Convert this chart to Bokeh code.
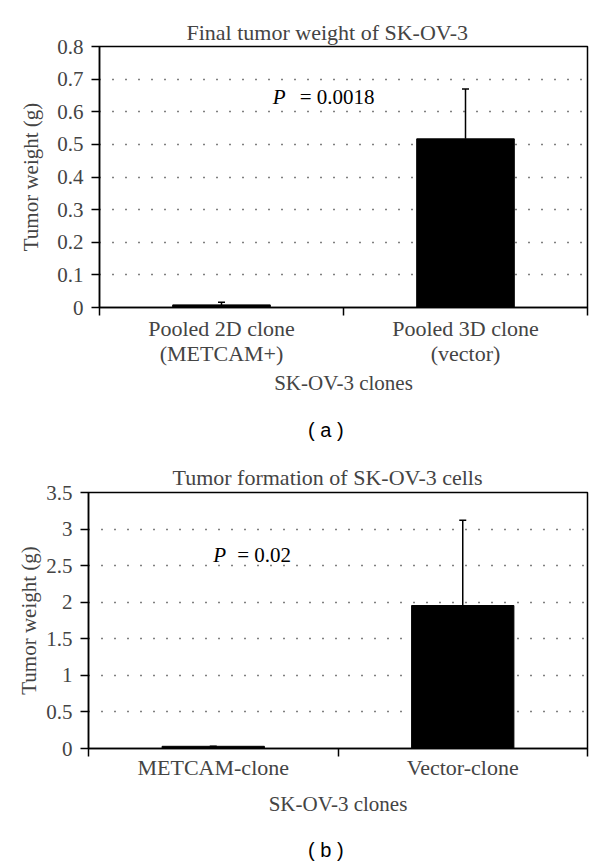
from bokeh.plotting import figure
from bokeh.models import Range1d, FixedTicker, Whisker, TeeHead, ColumnDataSource, Div
from bokeh.layouts import column
from bokeh.core.properties import value
from bokeh.embed import file_html
from bokeh.resources import INLINE

SERIF = "Liberation Serif"
SANS = "Liberation Sans"

# ---------------- data: panel (a)
a_title = "Final tumor weight of SK-OV-3"
a_categories = ["Pooled 2D clone\n(METCAM+)", "Pooled 3D clone\n(vector)"]
a_means = [0.008, 0.517]
a_sd = [0.008, 0.153]
a_yticks = [0, 0.1, 0.2, 0.3, 0.4, 0.5, 0.6, 0.7, 0.8]
a_ytick_labels = ["0", "0.1", "0.2", "0.3", "0.4", "0.5", "0.6", "0.7", "0.8"]
a_p_value = "= 0.0018"
a_p_pos = (0.71, 0.646)
a_letter = "( a )"

# ---------------- data: panel (b)
b_title = "Tumor formation of SK-OV-3 cells"
b_categories = ["METCAM-clone", "Vector-clone"]
b_means = [0.03, 1.955]
b_sd = [0.0, 1.165]
b_yticks = [0, 0.5, 1, 1.5, 2, 2.5, 3, 3.5]
b_ytick_labels = ["0", "0.5", "1", "1.5", "2", "2.5", "3", "3.5"]
b_p_value = "= 0.02"
b_p_pos = (0.50, 2.645)
b_letter = "( b )"

x_label = "SK-OV-3 clones"
y_label = "Tumor weight (g)"

FS = "21px"
FS_TITLE = "22px"


def make_panel(title, cats, means, sd, yticks, ylabels, p_value, p_pos,
               height, b_left, b_top, b_bottom, b_right, bar_width, ylab_standoff,
               eq_offset, title_offset, title_standoff, xtick_standoff,
               xlab_standoff):
    n = len(cats)
    xs = [i + 0.5 for i in range(n)]
    p = figure(width=600, height=height, output_backend="svg", toolbar_location=None,
               x_range=Range1d(0, n), y_range=Range1d(yticks[0], yticks[-1]),
               min_border_left=b_left, min_border_right=b_right,
               min_border_top=b_top, min_border_bottom=b_bottom)
    p.frame_align = False
    p.background_fill_color = "white"
    p.border_fill_color = "white"
    p.outline_line_color = "black"
    p.outline_line_width = 1.5

    # title
    p.title.text = title
    p.title.align = "left"
    p.title.offset = title_offset
    p.title.text_font = SERIF
    p.title.text_font_style = "normal"
    p.title.text_font_size = FS_TITLE
    p.title.standoff = title_standoff

    # bars
    p.vbar(x=xs, top=means, bottom=0, width=bar_width, fill_color="black",
           line_color="black")
    src = ColumnDataSource(dict(x=xs, lower=means,
                                upper=[m + s for m, s in zip(means, sd)]))
    w = Whisker(base="x", lower="lower", upper="upper", source=src,
                dimension="height", line_color="black", line_width=1.5,
                lower_head=None,
                upper_head=TeeHead(size=7, line_color="black", line_width=1.5))
    p.add_layout(w)

    # p-value annotation
    p.text(x=[p_pos[0]], y=[p_pos[1]], text=["P"], text_font=value(SERIF),
           text_font_style="italic", text_font_size=FS, text_baseline="middle",
           text_align="left", text_color="black")
    p.text(x=[p_pos[0]], y=[p_pos[1]], text=[p_value], text_font=value(SERIF),
           text_font_style="normal", text_font_size=FS, text_baseline="middle",
           text_align="left", text_color="black", x_offset=eq_offset)

    # y axis
    ya = p.yaxis[0]
    ya.ticker = FixedTicker(ticks=yticks, minor_ticks=[])
    ya.major_label_overrides = {t: l for t, l in zip(yticks, ylabels)}
    ya.axis_label = y_label
    ya.axis_label_text_font = SERIF
    ya.axis_label_text_font_style = "normal"
    ya.axis_label_text_font_size = FS
    ya.axis_label_standoff = ylab_standoff
    ya.major_label_text_font = SERIF
    ya.major_label_text_font_size = FS
    ya.major_label_standoff = 8
    ya.major_tick_out = 8
    ya.major_tick_in = 0
    ya.axis_line_width = 1.5
    ya.major_tick_line_width = 1.5
    ya.axis_line_color = "black"

    # x axis
    xa = p.xaxis[0]
    xa.ticker = FixedTicker(ticks=xs, minor_ticks=list(range(n + 1)))
    xa.major_label_overrides = {x: c for x, c in zip(xs, cats)}
    xa.axis_label = x_label
    xa.axis_label_text_font = SERIF
    xa.axis_label_text_font_style = "normal"
    xa.axis_label_text_font_size = FS
    xa.axis_label_standoff = xlab_standoff
    xa.major_label_text_font = SERIF
    xa.major_label_text_font_size = FS_TITLE
    xa.major_label_text_line_height = 1.0
    xa.major_label_standoff = xtick_standoff
    xa.major_tick_out = 0
    xa.major_tick_in = 0
    xa.minor_tick_out = 8
    xa.minor_tick_in = 0
    xa.minor_tick_line_width = 1.5
    xa.minor_tick_line_color = "black"
    xa.axis_line_width = 1.5
    xa.axis_line_color = "black"

    # grid
    p.xgrid.visible = False
    p.ygrid.ticker = FixedTicker(ticks=yticks)
    p.ygrid.grid_line_color = "black"
    p.ygrid.grid_line_width = 1.5
    p.ygrid.grid_line_dash = "1 12"
    return p


def letter_div(letter, height, top, left):
    html = (f'<div style="margin:{top}px 0 0 {left}px; font-family:\'{SANS}\'; '
            f'font-size:20px; line-height:20px; color:black; white-space:pre;">'
            f'{letter}</div>')
    return Div(text=html, width=600, height=height, margin=0)


pa = make_panel(a_title, a_categories, a_means, a_sd, a_yticks, a_ytick_labels,
                a_p_value, a_p_pos,
                height=400, b_left=99, b_top=46, b_bottom=93, b_right=13,
                bar_width=0.40, ylab_standoff=11, eq_offset=27,
                title_offset=87, title_standoff=3, xtick_standoff=0,
                xlab_standoff=2)
pb = make_panel(b_title, b_categories, b_means, b_sd, b_yticks, b_ytick_labels,
                b_p_value, b_p_pos,
                height=363, b_left=88, b_top=37, b_bottom=70, b_right=13,
                bar_width=0.41, ylab_standoff=2, eq_offset=24,
                title_offset=84, title_standoff=5, xtick_standoff=-2,
                xlab_standoff=9)

da = letter_div(a_letter, 55, 20, 308)
db = letter_div(b_letter, 42, 22, 308)

layout = column(pa, da, pb, db, spacing=0)
open("out.html", "w").write(file_html(layout, INLINE))
